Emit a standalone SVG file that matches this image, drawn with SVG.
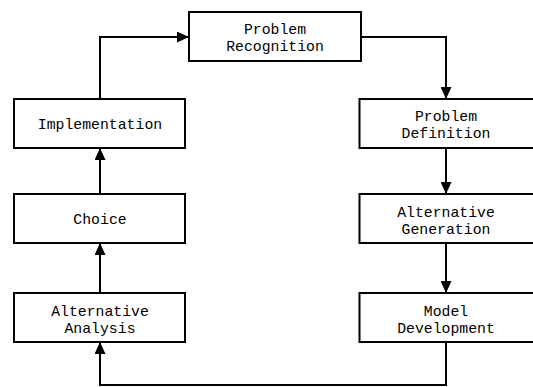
<svg xmlns="http://www.w3.org/2000/svg" width="533" height="387" viewBox="0 0 533 387">
<defs>
<style>
.box{fill:#fff;stroke:#000;stroke-width:2}
.t{font-family:"Liberation Mono","Courier New",monospace;font-size:14.8px;fill:#000;text-anchor:middle}
.c{fill:none;stroke:#000;stroke-width:2}
</style>
<marker id="ah" markerUnits="userSpaceOnUse" markerWidth="12" markerHeight="11" refX="12" refY="5.5" orient="auto">
<path d="M0,0 L12,5.5 L0,11 z" fill="#000"/>
</marker>
</defs>
<rect width="533" height="387" fill="#fff"/>
<g id="connectors">
<path class="c" d="M100,99 V37 H189" marker-end="url(#ah)"/>
<path class="c" d="M361,37 H446 V99" marker-end="url(#ah)"/>
<path class="c" d="M446,148 V194" marker-end="url(#ah)"/>
<path class="c" d="M446,243 V293" marker-end="url(#ah)"/>
<path class="c" d="M446,342 V385 H100 V342" marker-end="url(#ah)"/>
<path class="c" d="M100,293 V243" marker-end="url(#ah)"/>
<path class="c" d="M100,194 V148" marker-end="url(#ah)"/>
</g>
<g id="problem-recognition">
<rect class="box" x="189" y="12" width="172" height="49"/>
<text class="t" x="275" y="33.5">Problem</text>
<text class="t" x="275" y="50.5">Recognition</text>
</g>
<g id="implementation">
<rect class="box" x="14" y="99" width="171" height="49"/>
<text class="t" x="100" y="129">Implementation</text>
</g>
<g id="choice">
<rect class="box" x="14" y="194" width="171" height="49"/>
<text class="t" x="100" y="224">Choice</text>
</g>
<g id="alternative-analysis">
<rect class="box" x="14" y="293" width="171" height="49"/>
<text class="t" x="100" y="315.5">Alternative</text>
<text class="t" x="100" y="332.5">Analysis</text>
</g>
<g id="problem-definition">
<rect class="box" x="359.5" y="99" width="182" height="49"/>
<text class="t" x="446" y="121">Problem</text>
<text class="t" x="446" y="138">Definition</text>
</g>
<g id="alternative-generation">
<rect class="box" x="359.5" y="194" width="182" height="49"/>
<text class="t" x="446" y="216.5">Alternative</text>
<text class="t" x="446" y="233.5">Generation</text>
</g>
<g id="model-development">
<rect class="box" x="359.5" y="293" width="182" height="49"/>
<text class="t" x="446" y="315.5">Model</text>
<text class="t" x="446" y="332.5">Development</text>
</g>
</svg>
